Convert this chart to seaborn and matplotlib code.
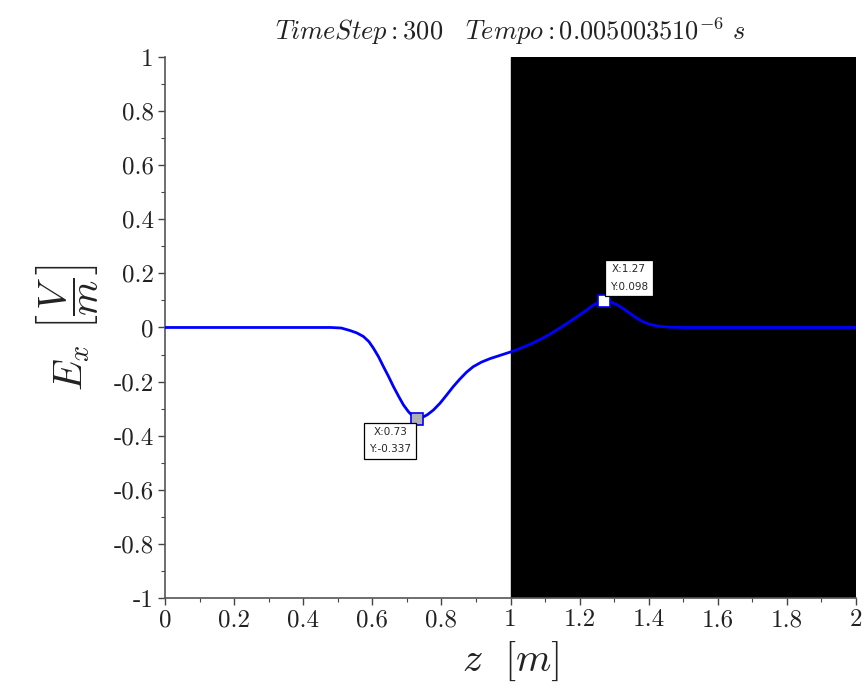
import matplotlib
matplotlib.use("Agg")
import matplotlib.pyplot as plt
import seaborn as sns
import pandas as pd
from matplotlib.ticker import MultipleLocator, FixedLocator, FixedFormatter

sns.set_theme(style="white")
plt.rcParams["mathtext.fontset"] = "cm"
plt.rcParams["font.family"] = ["cmr10", "DejaVu Serif"]
plt.rcParams["axes.unicode_minus"] = False

# Curve
z_vals = [0.0, 0.2, 0.4, 0.48, 0.51, 0.535, 0.555, 0.574, 0.59, 0.603, 0.618, 0.632,
          0.647, 0.661, 0.676, 0.690, 0.705, 0.719, 0.73, 0.743, 0.76, 0.777, 0.796,
          0.815, 0.834, 0.854, 0.873, 0.892, 0.916, 0.941, 0.970, 0.999, 1.027, 1.055,
          1.085, 1.114, 1.143, 1.172, 1.201, 1.222, 1.24, 1.257, 1.272, 1.29, 1.307,
          1.326, 1.346, 1.365, 1.384, 1.403, 1.423, 1.442, 1.462, 1.5, 1.6, 1.8, 2.0]
ex_vals = [0.0, 0.0, 0.0, 0.0, -0.002, -0.011, -0.02, -0.033, -0.052, -0.076, -0.108, -0.144,
           -0.181, -0.218, -0.254, -0.286, -0.312, -0.330, -0.337, -0.334, -0.322, -0.305, -0.280,
           -0.250, -0.219, -0.190, -0.165, -0.145, -0.128, -0.115, -0.103, -0.091, -0.078, -0.063,
           -0.045, -0.025, -0.002, 0.022, 0.047, 0.066, 0.083, 0.094, 0.098, 0.094, 0.085,
           0.070, 0.052, 0.035, 0.021, 0.012, 0.006, 0.003, 0.001, 0.0, 0.0, 0.0, 0.0]

x_ticks = [0, 0.2, 0.4, 0.6, 0.8, 1, 1.2, 1.4, 1.6, 1.8, 2]
x_tick_labels = ["0", "0.2", "0.4", "0.6", "0.8", "1", "1.2", "1.4", "1.6", "1.8", "2"]
y_ticks = [-1, -0.8, -0.6, -0.4, -0.2, 0, 0.2, 0.4, 0.6, 0.8, 1]
y_tick_labels = ["-1", "-0.8", "-0.6", "-0.4", "-0.2", "0", "0.2", "0.4", "0.6", "0.8", "1"]

region_start, region_end = 1.0, 2.0
tip_min = (0.73, -0.337)
tip_max = (1.27, 0.098)

df = pd.DataFrame({"z": z_vals, "Ex": ex_vals})

fig = plt.figure(figsize=(8.66, 6.89), dpi=100)
ax = fig.add_axes([0.1905, 0.1321, 0.798, 0.7852])

ax.axvspan(region_start, region_end, color="black", zorder=0)
sns.lineplot(data=df, x="z", y="Ex", ax=ax, color="#0000ff", linewidth=2.0, zorder=3)

ax.set_xlim(0, 2)
ax.set_ylim(-1, 1)

ax.xaxis.set_major_locator(FixedLocator(x_ticks))
ax.xaxis.set_major_formatter(FixedFormatter(x_tick_labels))
ax.yaxis.set_major_locator(FixedLocator(y_ticks))
ax.yaxis.set_major_formatter(FixedFormatter(y_tick_labels))
ax.xaxis.set_minor_locator(MultipleLocator(0.1))
ax.yaxis.set_minor_locator(MultipleLocator(0.1))
ax.tick_params(which="major", direction="out", length=5, width=1, color="#444444",
               labelsize=18, labelcolor="#222222", bottom=True, left=True, pad=3)
ax.tick_params(which="minor", direction="out", length=3, width=0.8, color="#444444",
               bottom=True, left=True)

for s in ["top", "right"]:
    ax.spines[s].set_visible(False)
for s in ["left", "bottom"]:
    ax.spines[s].set_color("#555555")
    ax.spines[s].set_linewidth(1.2)

ax.set_xlabel(r"$z\ \ [m]$", fontsize=29, labelpad=6, color="#222222")
ax.set_ylabel(r"$E_x\ \left[\dfrac{V}{m}\right]$", fontsize=29, labelpad=10, color="#222222")
ax.set_title(r"$TimeStep: 300\ \ \ Tempo: 0.005003510^{-6}\ s$", fontsize=19,
             color="#222222", pad=12, x=0.5)

# data tips
ax.plot(*tip_min, marker="s", markersize=8, markerfacecolor="#b0b0b0",
        markeredgecolor="#0000ff", markeredgewidth=1.2, zorder=5)
ax.plot(*tip_max, marker="s", markersize=8, markerfacecolor="white",
        markeredgecolor="#0000ff", markeredgewidth=1.2, zorder=5)

box = dict(boxstyle="square,pad=0.45", facecolor="white", edgecolor="black", linewidth=0.9)
ax.annotate(f"X:{tip_min[0]}\nY:{tip_min[1]}", xy=tip_min, xytext=(-19.5, -16),
            textcoords="offset points", ha="center", va="center", fontsize=7.5,
            family="DejaVu Sans", linespacing=1.9, bbox=box, zorder=6)
ax.annotate(f"X:{tip_max[0]}\nY:{tip_max[1]}", xy=tip_max, xytext=(18, 16.5),
            textcoords="offset points", ha="center", va="center", fontsize=7.5,
            family="DejaVu Sans", linespacing=1.9, bbox=box, zorder=6)

fig.savefig("out.png", dpi=100)
